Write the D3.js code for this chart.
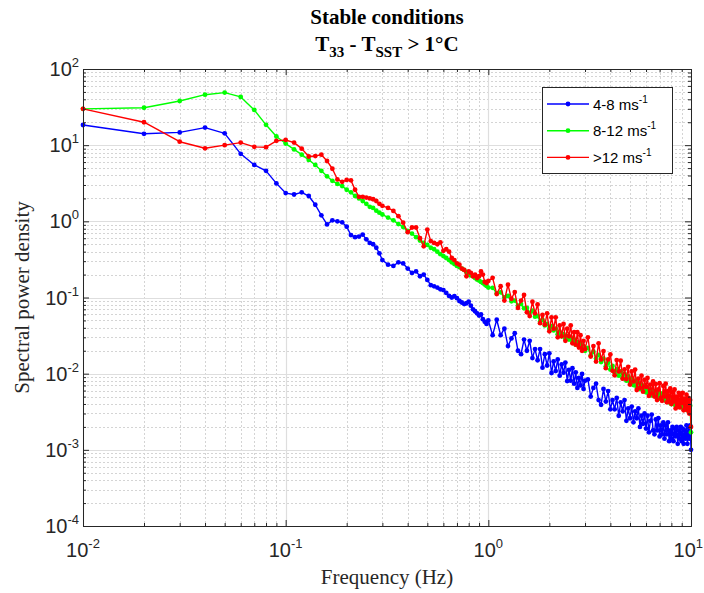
<!DOCTYPE html>
<html><head><meta charset="utf-8">
<script src="https://cdn.jsdelivr.net/npm/d3@7"></script>
<style>body{margin:0;background:#fff}</style></head>
<body>
<svg id="c" width="704" height="593"></svg>
<script>
// ---------- DATA ----------
const freq=[0.01,0.02,0.03,0.04,0.05,0.06,0.07,0.08,0.09,0.10,
0.11,0.12,0.13,0.14,0.15,0.16,0.17,0.18,0.19,0.20,
0.21,0.22,0.23,0.24,0.25,0.26,0.27,0.28,0.29,0.30,
0.32,0.34,0.36,0.38,0.40,0.42,0.44,0.46,0.48,0.50,
0.52,0.54,0.56,0.58,0.60,0.62,0.64,0.66,0.68,0.70,
0.72,0.74,0.76,0.78,0.80,0.82,0.84,0.86,0.88,0.90,
0.92,0.94,0.96,0.98,1.00,
1.05,1.10,1.15,1.20,1.25,1.30,1.35,1.40,1.45,1.50,
1.55,1.60,1.65,1.70,1.75,1.80,1.85,1.90,1.95,2.00,
2.05,2.10,2.15,2.20,2.25,2.30,2.35,2.40,2.45,2.50,
2.55,2.60,2.65,2.70,2.75,2.80,2.85,2.90,2.95,3.00,
3.1,3.2,3.3,3.4,3.5,3.6,3.7,3.8,3.9,4.0,
4.1,4.2,4.3,4.4,4.5,4.6,4.7,4.8,4.9,5.0,
5.1,5.2,5.3,5.4,5.5,5.6,5.7,5.8,5.9,6.0,
6.1,6.2,6.3,6.4,6.5,6.6,6.7,6.8,6.9,7.0,
7.1,7.2,7.3,7.4,7.5,7.6,7.7,7.8,7.9,8.0,
8.1,8.2,8.3,8.4,8.5,8.6,8.7,8.8,8.9,9.0,
9.1,9.2,9.3,9.4,9.5,9.6,9.7,9.8,9.9,10.0];

const psdLow=[18.4,14.1,14.7,17.0,14.3,7.7,5.5,4.6,3.15,2.35,
2.25,2.4,2.15,1.65,1.2,0.91,1.03,1.0,0.97,0.85,
0.66,0.62,0.63,0.67,0.58,0.52,0.50,0.45,0.38,0.31,
0.27,0.26,0.29,0.28,0.24,0.21,0.22,0.19,0.20,0.17,
0.145,0.14,0.135,0.128,0.125,0.115,0.105,0.10,0.104,0.098,
0.09,0.086,0.082,0.084,0.088,0.078,0.07,0.066,0.062,0.058,
0.060,0.052,0.048,0.045,0.050,
0.032,0.051,0.032,0.039,0.023,0.029,0.034,0.020,0.018,0.028,
0.020,0.027,0.016,0.021,0.015,0.021,0.012,0.018,0.0128,0.0185,
0.0102,0.0145,0.0108,0.0154,0.0094,0.0132,0.0103,0.0140,0.0080,0.0112,
0.0081,0.0118,0.0074,0.0104,0.0065,0.0088,0.0070,0.0099,0.0063,0.0081,
0.0084,0.0050,0.0065,0.0074,0.0045,0.0039,0.0063,0.0043,0.0059,0.0034,
0.0045,0.0034,0.0048,0.0028,0.0042,0.0032,0.0045,0.0024,0.0035,0.0026,
0.0037,0.0023,0.0032,0.0026,0.0035,0.0020,0.0028,0.0022,0.0030,0.0019,
0.0028,0.0017,0.0024,0.0029,0.0018,0.0016,0.0025,0.0018,0.0026,0.0015,
0.0021,0.0016,0.0023,0.0014,0.0021,0.0016,0.0023,0.0013,0.0018,0.0014,
0.0020,0.0013,0.0019,0.0015,0.0020,0.0012,0.0018,0.0014,0.0020,0.0013,
0.0019,0.0012,0.0018,0.0014,0.0021,0.0012,0.0020,0.0014,0.0021,0.0010];

const psdMid=[30,31,38,46,49,43,29,18.5,13,10.5,
8.8,7.5,6.4,5.5,4.6,3.9,3.4,3.1,2.9,2.6,
2.4,2.15,2.0,1.85,1.7,1.55,1.5,1.38,1.3,1.23,
1.12,1.03,0.92,0.84,0.75,0.69,0.62,0.56,0.52,0.49,
0.45,0.43,0.40,0.37,0.35,0.33,0.31,0.29,0.275,0.26,
0.25,0.24,0.23,0.215,0.205,0.195,0.19,0.18,0.172,0.167,
0.16,0.155,0.148,0.142,0.135,
0.134,0.113,0.117,0.100,0.105,0.089,0.091,0.078,0.082,0.072,
0.073,0.063,0.067,0.056,0.057,0.048,0.051,0.043,0.045,0.039,
0.042,0.037,0.039,0.033,0.035,0.031,0.033,0.029,0.031,0.028,
0.030,0.026,0.028,0.024,0.026,0.023,0.025,0.022,0.023,0.020,
0.0218,0.0174,0.0194,0.0158,0.0176,0.0142,0.0157,0.0125,0.0139,0.0113,
0.0126,0.0102,0.0114,0.0094,0.0107,0.0087,0.0099,0.0081,0.0092,0.0076,
0.0086,0.0071,0.0081,0.0066,0.0076,0.0063,0.0072,0.0060,0.0068,0.0057,
0.0065,0.0054,0.0062,0.0052,0.0059,0.0051,0.0058,0.0049,0.0056,0.0047,
0.0055,0.0046,0.0054,0.0045,0.0052,0.0044,0.0051,0.0042,0.0049,0.0040,
0.0048,0.0040,0.0045,0.0038,0.0044,0.0037,0.0043,0.0037,0.0042,0.0036,
0.0041,0.0035,0.0040,0.0034,0.0040,0.0033,0.0039,0.0032,0.0038,0.0017];

const psdHigh=[30,20,11.1,9.1,10.0,10.8,9.5,9.4,11.4,11.7,
10.8,9.0,7.1,7.2,7.5,6.2,4.9,3.55,3.3,3.5,
3.45,2.6,2.1,2.1,2.05,2.0,1.95,1.85,1.7,1.6,
1.5,1.37,1.17,0.96,0.72,0.83,0.83,0.60,0.47,0.78,
0.55,0.52,0.50,0.53,0.41,0.43,0.40,0.33,0.31,0.28,
0.27,0.24,0.23,0.19,0.22,0.21,0.19,0.20,0.18,0.19,
0.22,0.20,0.16,0.155,0.165,
0.181,0.111,0.141,0.091,0.147,0.096,0.118,0.073,0.091,0.108,
0.064,0.057,0.088,0.062,0.081,0.046,0.059,0.044,0.062,0.036,
0.055,0.039,0.055,0.030,0.043,0.031,0.045,0.027,0.039,0.031,
0.043,0.025,0.035,0.024,0.035,0.022,0.032,0.020,0.027,0.021,
0.030,0.0168,0.0230,0.0144,0.0250,0.0154,0.0198,0.0118,0.0154,0.0179,
0.0109,0.0095,0.0151,0.0107,0.0148,0.0086,0.0114,0.0085,0.0123,0.0072,
0.0107,0.0079,0.0113,0.0061,0.0086,0.0065,0.0094,0.0058,0.0083,0.0067,
0.0088,0.0051,0.0072,0.0055,0.0079,0.0050,0.0073,0.0045,0.0062,0.0075,
0.0048,0.0044,0.0069,0.0050,0.0074,0.0042,0.0059,0.0043,0.0064,0.0040,
0.0057,0.0043,0.0062,0.0035,0.0050,0.0039,0.0056,0.0036,0.0052,0.0041,
0.0056,0.0033,0.0047,0.0036,0.0053,0.0033,0.0048,0.0030,0.0045,0.0020];

const seriesLabels=["4-8 ms","8-12 ms",">12 ms"];
const seriesColors=["#0000ff","#00ff00","#ff0000"];
const xTickExps=[-2,-1,0,1];
const yTickExps=[-4,-3,-2,-1,0,1,2];

// ---------- CHART ----------
const svg=d3.select("#c");
const L=83,R=691,T=69,B=526;
const x=d3.scaleLog().domain([0.01,10]).range([L,R]);
const y=d3.scaleLog().domain([1e-4,1e2]).range([B,T]);

const xMajor=xTickExps.map(e=>Math.pow(10,e));
const yMajor=yTickExps.map(e=>Math.pow(10,e));
const xMinor=[],yMinor=[];
for(let e=-2;e<1;e++)for(let k=2;k<10;k++)xMinor.push(k*Math.pow(10,e));
for(let e=-4;e<2;e++)for(let k=2;k<10;k++)yMinor.push(k*Math.pow(10,e));

svg.append("rect").attr("x",L).attr("y",T).attr("width",R-L).attr("height",B-T).attr("fill","#fff");

const g=svg.append("g");
g.selectAll(".mgx").data(xMinor).join("line")
 .attr("x1",d=>Math.round(x(d))+0.5).attr("x2",d=>Math.round(x(d))+0.5).attr("y1",T).attr("y2",B)
 .attr("stroke","#d4d4d4").attr("stroke-width",1).attr("stroke-dasharray","2,2");
g.selectAll(".mgy").data(yMinor).join("line")
 .attr("y1",d=>Math.round(y(d))+0.5).attr("y2",d=>Math.round(y(d))+0.5).attr("x1",L).attr("x2",R)
 .attr("stroke","#d4d4d4").attr("stroke-width",1).attr("stroke-dasharray","2,2");
g.selectAll(".Mgx").data(xMajor).join("line")
 .attr("x1",d=>Math.round(x(d))+0.5).attr("x2",d=>Math.round(x(d))+0.5).attr("y1",T).attr("y2",B)
 .attr("stroke","#dedede").attr("stroke-width",1.2);
g.selectAll(".Mgy").data(yMajor).join("line")
 .attr("y1",d=>Math.round(y(d))+0.5).attr("y2",d=>Math.round(y(d))+0.5).attr("x1",L).attr("x2",R)
 .attr("stroke","#dedede").attr("stroke-width",1.2);

const data=[psdLow,psdMid,psdHigh];
const line=d3.line().x(d=>x(d[0])).y(d=>y(d[1]));
data.forEach((vals,i)=>{
  const pts=freq.map((f,j)=>[f,vals[j]]);
  const sg=svg.append("g");
  sg.append("path").datum(pts).attr("d",line).attr("fill","none")
    .attr("stroke",seriesColors[i]).attr("stroke-width",1.4).attr("stroke-linejoin","round");
  sg.selectAll("circle").data(pts).join("circle")
    .attr("cx",d=>x(d[0])).attr("cy",d=>y(d[1])).attr("r",2.4).attr("fill",seriesColors[i]);
});

const axCol="#262626";
function styleAxis(sel){sel.select(".domain").attr("stroke",axCol).attr("stroke-width",1);
  sel.selectAll(".tick line").attr("stroke",axCol);sel.selectAll("text").remove();}
svg.append("g").attr("transform",`translate(0,${B})`).call(d3.axisBottom(x).tickValues(xMajor).tickSizeInner(-6).tickSizeOuter(0).tickFormat("")).call(styleAxis);
svg.append("g").attr("transform",`translate(0,${B})`).call(d3.axisBottom(x).tickValues(xMinor).tickSizeInner(-3).tickSizeOuter(0).tickFormat("")).call(styleAxis);
svg.append("g").attr("transform",`translate(0,${T})`).call(d3.axisTop(x).tickValues(xMajor).tickSizeInner(-6).tickSizeOuter(0).tickFormat("")).call(styleAxis);
svg.append("g").attr("transform",`translate(0,${T})`).call(d3.axisTop(x).tickValues(xMinor).tickSizeInner(-3).tickSizeOuter(0).tickFormat("")).call(styleAxis);
svg.append("g").attr("transform",`translate(${L},0)`).call(d3.axisLeft(y).tickValues(yMajor).tickSizeInner(-6).tickSizeOuter(0).tickFormat("")).call(styleAxis);
svg.append("g").attr("transform",`translate(${L},0)`).call(d3.axisLeft(y).tickValues(yMinor).tickSizeInner(-3).tickSizeOuter(0).tickFormat("")).call(styleAxis);
svg.append("g").attr("transform",`translate(${R},0)`).call(d3.axisRight(y).tickValues(yMajor).tickSizeInner(-6).tickSizeOuter(0).tickFormat("")).call(styleAxis);
svg.append("g").attr("transform",`translate(${R},0)`).call(d3.axisRight(y).tickValues(yMinor).tickSizeInner(-3).tickSizeOuter(0).tickFormat("")).call(styleAxis);

const tickFont="'Liberation Sans',Arial,sans-serif";
xTickExps.forEach((e,i)=>{
  const last=i===xTickExps.length-1;
  const t=svg.append("text").attr("x",last?703:x(Math.pow(10,e))).attr("y",557)
   .attr("text-anchor",last?"end":"middle")
   .attr("font-family",tickFont).attr("font-size",20).attr("fill","#262626");
  t.append("tspan").text("10");
  t.append("tspan").attr("font-size",13).attr("dy",-9).text(String(e));
});
yTickExps.forEach(e=>{
  const t=svg.append("text").attr("x",79).attr("y",y(Math.pow(10,e))+7).attr("text-anchor","end")
   .attr("font-family",tickFont).attr("font-size",20).attr("fill","#262626");
  t.append("tspan").text("10");
  t.append("tspan").attr("font-size",13).attr("dy",-9).text(String(e));
});

const serif="'Liberation Serif','Times New Roman',serif";
svg.append("text").attr("x",(L+R)/2).attr("y",584).attr("text-anchor","middle")
 .attr("font-family",serif).attr("font-size",21).attr("fill","#262626").text("Frequency (Hz)");
svg.append("text").attr("transform",`translate(29,${(T+B)/2}) rotate(-90)`).attr("text-anchor","middle")
 .attr("font-family",serif).attr("font-size",21).attr("fill","#262626").text("Spectral power density");

svg.append("text").attr("x",(L+R)/2).attr("y",24).attr("text-anchor","middle")
 .attr("font-family",serif).attr("font-weight","bold").attr("font-size",21).attr("fill","#000").text("Stable conditions");
const t2=svg.append("text").attr("x",(L+R)/2).attr("y",51).attr("text-anchor","middle")
 .attr("font-family",serif).attr("font-weight","bold").attr("font-size",21).attr("fill","#000");
t2.append("tspan").text("T");
t2.append("tspan").attr("font-size",15).attr("dy",6).text("33");
t2.append("tspan").attr("dy",-6).text(" - T");
t2.append("tspan").attr("font-size",15).attr("dy",6).text("SST");
t2.append("tspan").attr("dy",-6).text(" > 1°C");

const lg=svg.append("g");
lg.append("rect").attr("x",542.5).attr("y",87.5).attr("width",130).attr("height",86)
 .attr("fill","#fff").attr("stroke",axCol).attr("stroke-width",1);
seriesLabels.forEach((s,i)=>{
  const yy=104+i*26.7;
  lg.append("line").attr("x1",547).attr("x2",589).attr("y1",yy).attr("y2",yy)
    .attr("stroke",seriesColors[i]).attr("stroke-width",1.4);
  lg.append("circle").attr("cx",568).attr("cy",yy).attr("r",2.4).attr("fill",seriesColors[i]);
  const t=lg.append("text").attr("x",593).attr("y",yy+5.5).attr("font-family",tickFont)
    .attr("font-size",15).attr("fill","#000");
  t.append("tspan").text(s);
  t.append("tspan").attr("font-size",10).attr("dy",-7).text("-1");
});
</script>
</body></html>
